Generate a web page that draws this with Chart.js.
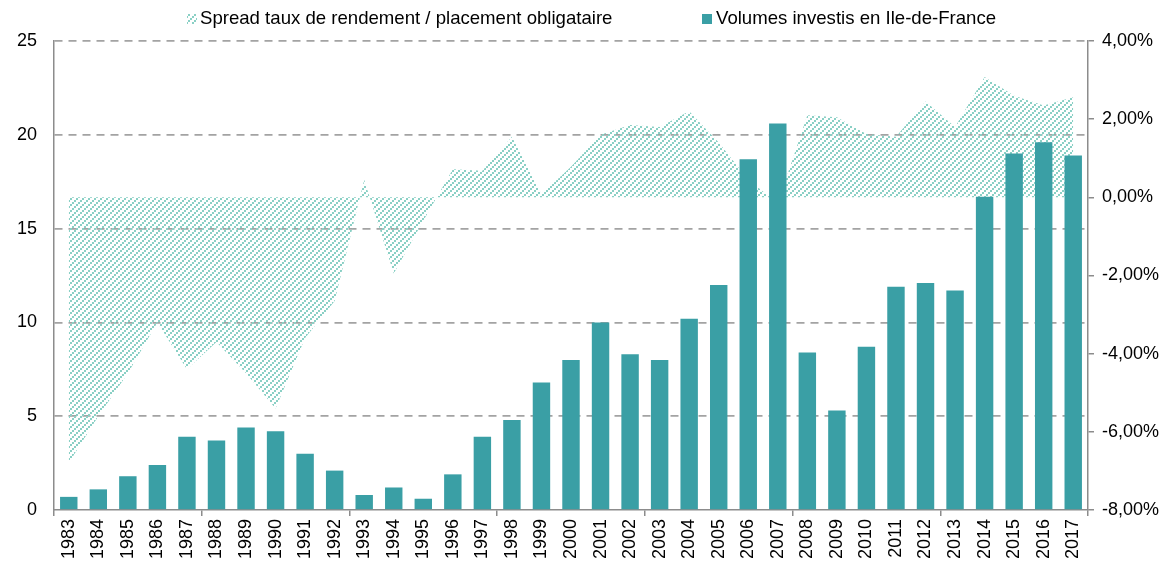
<!DOCTYPE html>
<html>
<head>
<meta charset="utf-8">
<script src="https://cdn.jsdelivr.net/npm/chart.js@4/dist/chart.umd.min.js"></script>
<style>
html,body{margin:0;padding:0;background:#fff;}
#wrap{position:relative;width:1166px;height:563px;}
</style>
</head>
<body>
<div id="wrap"><canvas id="c" width="1166" height="563"></canvas></div>
<script>
const years = ['1983','1984','1985','1986','1987','1988','1989','1990','1991','1992','1993','1994','1995','1996','1997','1998','1999','2000','2001','2002','2003','2004','2005','2006','2007','2008','2009','2010','2011','2012','2013','2014','2015','2016','2017'];
const volumes = [0.7,1.1,1.8,2.4,3.9,3.7,4.4,4.2,3.0,2.1,0.8,1.2,0.6,1.9,3.9,4.8,6.8,8.0,10.0,8.3,8.0,10.2,12.0,18.7,20.6,8.4,5.3,8.7,11.9,12.1,11.7,16.7,19.0,19.6,18.9];
const spread = [-6.8,-5.6,-4.5,-3.2,-4.4,-3.7,-4.5,-5.4,-3.6,-2.65,0.45,-1.95,-0.6,0.72,0.68,1.55,0.08,0.78,1.6,1.85,1.8,2.2,1.4,0.45,-0.15,2.1,2.05,1.62,1.55,2.45,1.8,3.08,2.6,2.35,2.56];
const leftTicks = [0,5,10,15,20,25];
const rightTicks = [-8,-6,-4,-2,0,2,4];
const seriesNames = ['Spread taux de rendement / placement obligataire','Volumes investis en Ile-de-France'];

const BAR = '#3a9fa5';
const HATCH = '#8ad0c5';
const GRID = '#a3a3a3';
const AXIS = '#8c8c8c';
const FONT = 'Arial, "Liberation Sans", sans-serif';

function makePattern(){
  const t = document.createElement('canvas');
  t.width = 6; t.height = 6;
  const g = t.getContext('2d');
  g.fillStyle = HATCH;
  g.fillRect(0,4,2,2);
  g.fillRect(2,2,2,2);
  g.fillRect(4,0,2,2);
  return g.createPattern(t,'repeat');
}
const pattern = makePattern();

const legendPlugin = {
  id:'customLegend',
  afterDraw(chart){
    const ctx = chart.ctx;
    ctx.save();
    ctx.font = '18.6px ' + FONT;
    ctx.textBaseline = 'middle';
    ctx.fillStyle = pattern;
    ctx.fillRect(187,14,10,10);
    ctx.fillStyle = '#000';
    ctx.fillText(seriesNames[0], 200, 19);
    ctx.fillStyle = BAR;
    ctx.fillRect(702,14,10,10);
    ctx.fillStyle = '#000';
    ctx.fillText(seriesNames[1], 716, 19);
    ctx.restore();
  }
};

new Chart(document.getElementById('c'), {
  data: {
    labels: years,
    datasets: [
      {
        type:'line',
        label: seriesNames[0],
        data: spread,
        yAxisID:'y1',
        borderWidth:0,
        borderColor:'rgba(0,0,0,0)',
        pointRadius:0,
        tension:0,
        fill:{value:0},
        backgroundColor: pattern,
        order: 2
      },
      {
        type:'bar',
        label: seriesNames[1],
        data: volumes,
        yAxisID:'y',
        backgroundColor: BAR,
        barPercentage:0.59,
        categoryPercentage:1,
        order: 1
      }
    ]
  },
  options: {
    responsive:false,
    animation:false,
    devicePixelRatio:1,
    layout:{padding:{top:41,left:0,right:0,bottom:0}},
    plugins:{legend:{display:false},tooltip:{enabled:false}},
    scales:{
      x:{
        type:'category',
        offset:true,
        grid:{
          offset:true,
          drawOnChartArea:false,
          drawTicks:true,
          tickLength:6,
          lineWidth:1.5,
          color: c => (c.index === undefined || c.index % 5 === 0) ? AXIS : 'rgba(0,0,0,0)'
        },
        border:{display:true,color:AXIS,width:1.5},
        ticks:{
          autoSkip:false,
          maxRotation:90,
          minRotation:90,
          padding:3,
          color:'#000',
          font:{family:FONT,size:18}
        },
        afterFit(s){ s.height = 53; }
      },
      y:{
        position:'left',
        min:0,max:25,
        afterBuildTicks(s){ s.ticks = leftTicks.map(v=>({value:v})); },
        grid:{
          drawTicks:false,
          lineWidth:1.7,
          color: c => c.tick && c.tick.value === 0 ? 'rgba(0,0,0,0)' : GRID
        },
        border:{display:true,color:AXIS,width:1.5,dash:[8,6]},
        ticks:{padding:17,color:'#000',font:{family:FONT,size:18}},
        afterFit(s){ s.width = 54; }
      },
      y1:{
        position:'right',
        min:-8,max:4,
        afterBuildTicks(s){ s.ticks = rightTicks.map(v=>({value:v})); },
        grid:{drawOnChartArea:false,drawTicks:true,tickLength:6,color:AXIS,lineWidth:1.5},
        border:{display:true,color:AXIS,width:1.5},
        ticks:{
          padding:8,
          color:'#000',
          font:{family:FONT,size:18},
          callback: v => v.toFixed(2).replace('.',',') + '%'
        },
        afterFit(s){ s.width = 78; }
      }
    }
  },
  plugins:[legendPlugin]
});
</script>
</body>
</html>
